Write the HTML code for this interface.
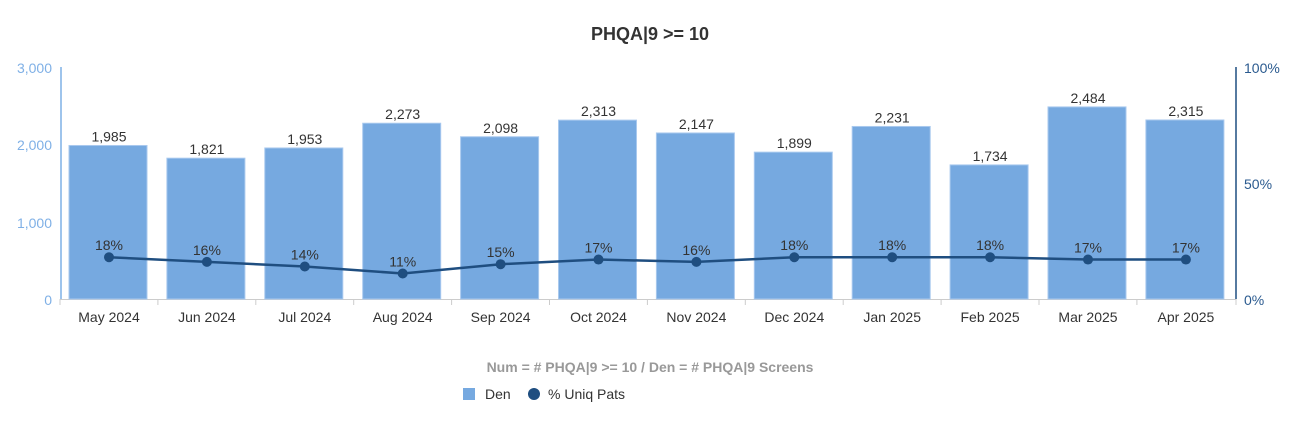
<!DOCTYPE html>
<html><head><meta charset="utf-8"><style>
body{margin:0;background:#fff;}
svg{display:block;font-family:"Liberation Sans",sans-serif;}
</style></head><body>
<svg width="1310" height="423" viewBox="0 0 1310 423" xmlns="http://www.w3.org/2000/svg">
<text x="650" y="40" text-anchor="middle" font-size="18" font-weight="bold" fill="#333">PHQA|9 &gt;= 10</text>
<g font-size="14" fill="#7fb0e6" text-anchor="end">
<text x="52" y="73">3,000</text><text x="52" y="150">2,000</text><text x="52" y="228">1,000</text><text x="52" y="305">0</text>
</g>
<g font-size="14" fill="#2a5a8f">
<text x="1244" y="73">100%</text><text x="1244" y="189">50%</text><text x="1244" y="305">0%</text>
</g>
<line x1="61" y1="67" x2="61" y2="299" stroke="#7fb0e6" stroke-width="1.5"/>
<line x1="1236" y1="67" x2="1236" y2="299" stroke="#1f4e80" stroke-width="1.5"/>
<line x1="60" y1="299.5" x2="1236" y2="299.5" stroke="#ccc"/>
<g id="bars" fill="#76a9e0" stroke="#a9c9ee" stroke-width="1"></g>
<g id="ticks" stroke="#ccc"></g>
<g id="lbl" font-size="14" fill="#333" text-anchor="middle"></g>
<polyline id="ln" fill="none" stroke="#1f4e80" stroke-width="2.5"/>
<g id="dots" fill="#1f4e80"></g>
<text x="650" y="372" text-anchor="middle" font-size="14" font-weight="bold" fill="#999">Num = # PHQA|9 &gt;= 10 / Den =  # PHQA|9 Screens</text>
<rect x="463" y="388" width="12" height="12" fill="#76a9e0"/>
<text x="485" y="399" font-size="14" fill="#333">Den</text>
<circle cx="534" cy="394" r="6" fill="#1f4e80"/>
<text x="548" y="399" font-size="14" fill="#333">% Uniq Pats</text>
</svg>
<script>
var v=[1985,1821,1953,2273,2098,2313,2147,1899,2231,1734,2484,2315];
var p=[18,16,14,11,15,17,16,18,18,18,17,17];
var m=["May 2024","Jun 2024","Jul 2024","Aug 2024","Sep 2024","Oct 2024","Nov 2024","Dec 2024","Jan 2025","Feb 2025","Mar 2025","Apr 2025"];
var NS="http://www.w3.org/2000/svg";
function el(t,a,par,txt){var e=document.createElementNS(NS,t);for(var k in a)e.setAttribute(k,a[k]);if(txt)e.textContent=txt;document.getElementById(par).appendChild(e);}
var pts=[];
for(var i=0;i<12;i++){
 var x0=60+i*97.9, cx=x0+49;
 var h=v[i]*232/3000, y=299-h;
 el("rect",{x:x0+9,y:y,width:78,height:h},"bars");
 el("line",{x1:x0,y1:299,x2:x0,y2:305},"ticks");
 el("text",{x:cx,y:y-4},"lbl",v[i].toLocaleString("en-US"));
 el("text",{x:cx,y:322},"lbl",m[i]);
 var py=299-p[i]*2.32;
 pts.push(cx+","+py);
 el("circle",{cx:cx,cy:py,r:5},"dots");
 el("text",{x:cx,y:py-7},"lbl",p[i]+"%");
}
el("line",{x1:1236,y1:299,x2:1236,y2:305},"ticks");
document.getElementById("ln").setAttribute("points",pts.join(" "));
</script>
</body></html>
